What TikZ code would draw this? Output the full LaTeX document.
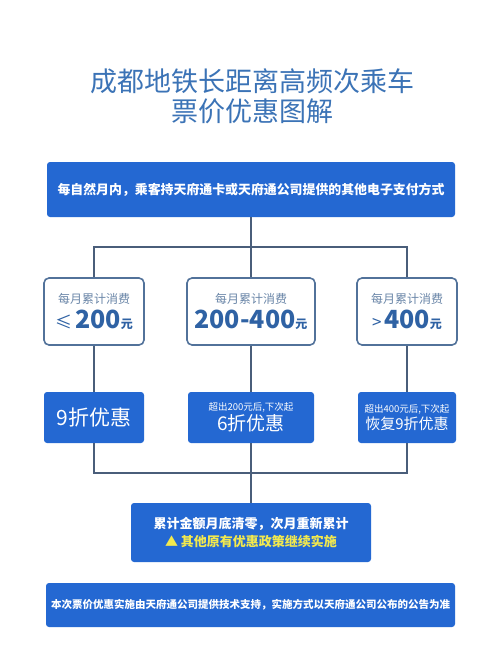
\documentclass[tikz,border=0pt]{standalone}
\usepackage{fontspec}
\setmainfont{Noto Sans CJK SC}
\newfontfamily\cjk{Noto Sans CJK SC}
\usepackage{tikz}
\usetikzlibrary{positioning,calc}
\definecolor{boxblue}{HTML}{2468D2}
\definecolor{linkgray}{HTML}{4A5E7A}
\definecolor{edgeblue}{HTML}{52729A}
\definecolor{titleblue}{HTML}{3B73B6}
\definecolor{numblue}{HTML}{2F62A4}
\definecolor{labelgray}{HTML}{6A86A8}
\definecolor{warnyellow}{HTML}{F2E94E}
\newcommand{\fs}[2]{\fontsize{#1}{#2}\selectfont}

\tikzset{
  bluebox/.style={fill=boxblue, rounded corners=3pt, text=white, align=center, inner sep=0pt},
  whitebox/.style={draw=edgeblue, line width=1.6pt, fill=white, rounded corners=5pt, align=center, inner sep=0pt},
  link/.style={draw=linkgray, line width=1.4pt}
}

\begin{document}
\begin{tikzpicture}[x=1pt, y=-1pt]
\useasboundingbox[fill=white] (0,0) rectangle (500,656);
% title
\node[text=titleblue, align=center, font=\cjk\fs{27}{30}] (ttl) at (252,96) {成都地铁长距离高频次乘车\\票价优惠图解};
% top condition
\node[bluebox, minimum width=408, minimum height=55, font=\cjk\bfseries\fs{12.9}{15}] (top) at (251,189.5) {每自然月内，乘客持天府通卡或天府通公司提供的其他电子支付方式};
% spending ranges
\node[whitebox, minimum width=100, minimum height=67] (a2) at (94,311.5) {{\fs{12}{14}\color{labelgray}每月累计消费}\\[4pt]{\color{numblue}\fs{17}{24}≤\,\bfseries\fs{25}{26}200\fs{12}{12}元}};
\node[whitebox, minimum width=128, minimum height=67] (b2) at (251,311.5) {{\fs{12}{14}\color{labelgray}每月累计消费}\\[4pt]{\color{numblue}\bfseries\fs{25}{26}200-400\fs{12}{12}元}};
\node[whitebox, minimum width=100, minimum height=67] (c2) at (407,311.5) {{\fs{12}{14}\color{labelgray}每月累计消费}\\[4pt]{\color{numblue}\fs{17}{24}>\,\bfseries\fs{25}{26}400\fs{12}{12}元}};
% discounts
\node[bluebox, minimum width=100, minimum height=51, font=\fs{21}{24}] (a3) at (94,417.5) {9折优惠};
\node[bluebox, minimum width=126, minimum height=51] (b3) at (251,417.5) {{\fs{9.5}{11}超出200元后,下次起}\\[1pt]{\fs{19}{20}6折优惠}};
\node[bluebox, minimum width=98, minimum height=51] (c3) at (407,417.5) {{\fs{9.5}{11}超出400元后,下次起}\\[1pt]{\fs{15}{17}恢复9折优惠}};
% reset note
\node[bluebox, minimum width=240, minimum height=59] (rst) at (251,532.5) {{\bfseries\fs{13}{15}累计金额月底清零，次月重新累计}\\[4pt]{\color{warnyellow}\bfseries\fs{13}{15}▲ 其他原有优惠政策继续实施}};
% footnote
\node[bluebox, minimum width=409, minimum height=44, font=\bfseries\fs{10.5}{12}] (foot) at (250.5,605) {本次票价优惠实施由天府通公司提供技术支持，实施方式以天府通公司公布的公告为准};

\coordinate (bus1) at (251,247);
\coordinate (bus2) at (251,473);
\draw[link] (top) -- (bus1);
\draw[link] (a2.north) -- (a2.north |- bus1) -- (c2.north |- bus1) -- (c2.north);
\draw[link] (bus1) -- (b2);
\draw[link] (a2) -- (a3);
\draw[link] (b2) -- (b3);
\draw[link] (c2) -- (c3);
\draw[link] (a3.south) -- (a3.south |- bus2) -- (c3.south |- bus2) -- (c3.south);
\draw[link] (b3) -- (bus2) -- (rst);
\end{tikzpicture}
\end{document}
